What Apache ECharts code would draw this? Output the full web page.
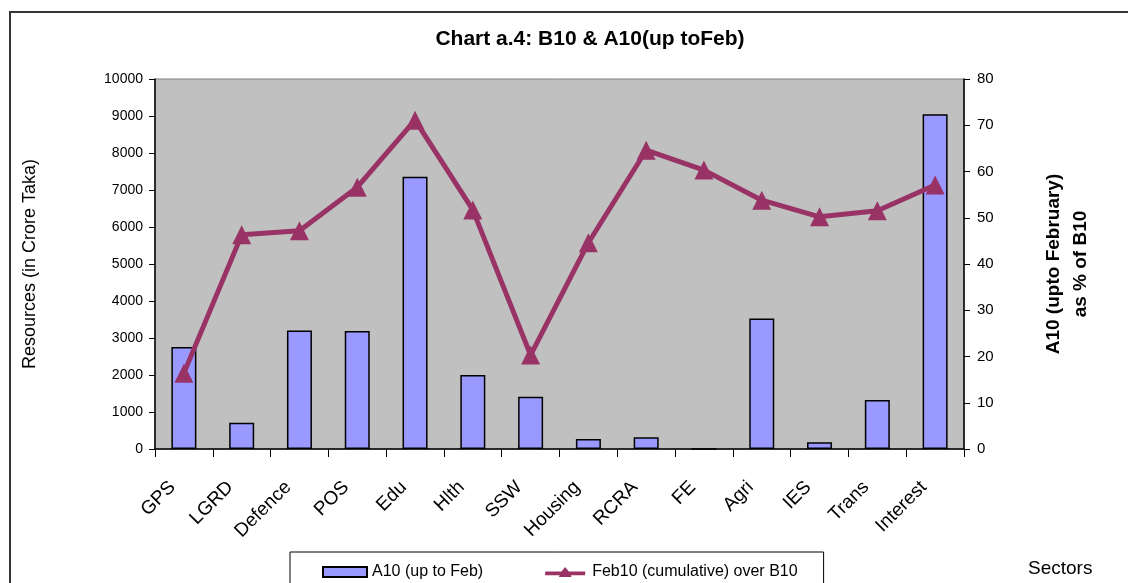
<!DOCTYPE html>
<html><head><meta charset="utf-8">
<script src="https://cdn.jsdelivr.net/npm/echarts@6/dist/echarts.min.js"></script>
<style>html,body{margin:0;padding:0;background:#fff}#c{width:1128px;height:583px}</style>
</head><body><div id="c"></div>
<script>
const categories = ['GPS','LGRD','Defence','POS','Edu','Hlth','SSW','Housing','RCRA','FE','Agri','IES','Trans','Interest'];
const a10UpToFeb = [2760, 710, 3200, 3190, 7360, 2000, 1415, 270, 315, 0, 3530, 180, 1325, 9045];
const feb10OverB10 = [16.4, 46.3, 47.2, 56.6, 71.1, 51.7, 20.3, 44.6, 64.6, 60.3, 53.8, 50.2, 51.5, 57.1];
const leftTicks = {min: 0, max: 10000, interval: 1000};
const rightTicks = {min: 0, max: 80, interval: 10};

const FONT = '"Liberation Sans", Arial, sans-serif';
const chart = echarts.init(document.getElementById('c'));
chart.setOption({
  animation: false,
  backgroundColor: '#ffffff',
  title: {
    text: 'Chart a.4: B10 & A10(up toFeb)',
    left: 585, top: 24, textAlign: 'center',
    textStyle: {fontFamily: FONT, fontSize: 21, fontWeight: 'bold', color: '#000'}
  },
  graphic: [
    {type: 'rect', shape: {x: 10, y: 12, width: 1300, height: 800}, style: {fill: 'none', stroke: '#333', lineWidth: 2}, z: 0, silent: true},
    {type: 'text', left: 1028, top: 559, style: {text: 'Sectors', fontFamily: FONT, fontSize: 19, fill: '#000'}}
  ],
  legend: {
    left: 290, top: 552,
    padding: [12, 26, 20, 32],
    borderColor: '#000', borderWidth: 1,
    itemWidth: 44, itemHeight: 10, itemGap: 62,
    textStyle: {fontFamily: FONT, fontSize: 16, color: '#000'},
    data: [
      {name: 'A10 (up to Feb)', icon: 'rect'},
      {name: 'Feb10 (cumulative) over B10',
       icon: 'path://M0,5 L18,5 L22,0 L26,5 L44,5 L44,9 L28,9 L29,11 L15,11 L16,9 L0,9 Z',
       itemStyle: {color: '#993366', borderWidth: 0}}
    ]
  },
  grid: {left: 155, right: 164, top: 79, bottom: 134, show: true, backgroundColor: '#c0c0c0', borderColor: '#808080', borderWidth: 1},
  xAxis: {
    type: 'category', data: categories,
    axisLine: {lineStyle: {color: '#000', width: 1.5}},
    axisTick: {show: true, length: 8, lineStyle: {color: '#000'}},
    axisLabel: {rotate: 45, margin: 24, padding: [0, 16, 0, 0], fontFamily: FONT, fontSize: 19, color: '#000'}
  },
  yAxis: [
    {
      type: 'value', min: leftTicks.min, max: leftTicks.max, interval: leftTicks.interval,
      name: 'Resources (in Crore Taka)', nameLocation: 'middle', nameGap: 116, nameRotate: 90,
      nameTextStyle: {fontFamily: FONT, fontSize: 18, color: '#000'},
      axisLine: {show: true, lineStyle: {color: '#000', width: 1.5}},
      axisTick: {show: true, length: 6, lineStyle: {color: '#000'}},
      splitLine: {show: false},
      axisLabel: {fontFamily: FONT, fontSize: 14, color: '#000', margin: 12, formatter: v => String(v)}
    },
    {
      type: 'value', position: 'right', min: rightTicks.min, max: rightTicks.max, interval: rightTicks.interval,
      name: 'A10 (upto February)\nas % of B10', nameLocation: 'middle', nameGap: 76, nameRotate: 90,
      nameTextStyle: {fontFamily: FONT, fontSize: 19, fontWeight: 'bold', color: '#000', lineHeight: 27},
      axisLine: {show: true, lineStyle: {color: '#000', width: 1.5}},
      axisTick: {show: true, length: 6, lineStyle: {color: '#000'}},
      splitLine: {show: false},
      axisLabel: {fontFamily: FONT, fontSize: 15, color: '#000', margin: 13}
    }
  ],
  series: [
    {
      name: 'A10 (up to Feb)', type: 'bar', data: a10UpToFeb, yAxisIndex: 0, barWidth: 25,
      itemStyle: {color: '#9999ff', borderColor: '#000', borderWidth: 1.5}
    },
    {
      name: 'Feb10 (cumulative) over B10', type: 'line', data: feb10OverB10, yAxisIndex: 1,
      symbol: 'triangle', symbolSize: 19,
      lineStyle: {color: '#993366', width: 5},
      itemStyle: {color: '#993366'}
    }
  ]
});
</script></body></html>
